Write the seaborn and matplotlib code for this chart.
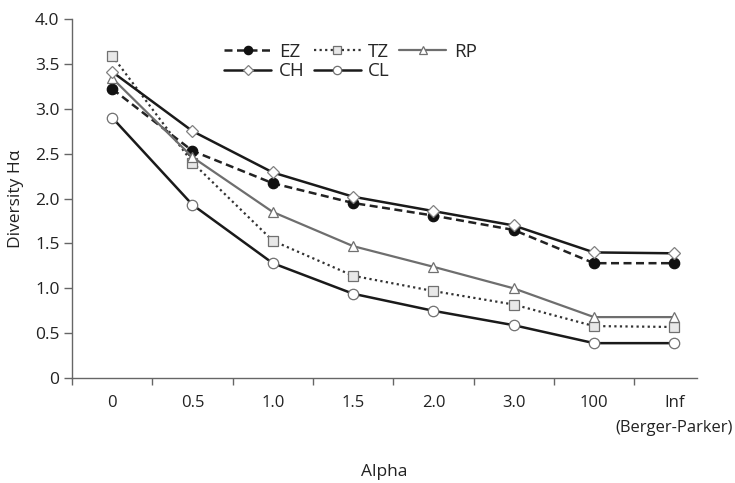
import matplotlib
matplotlib.use("Agg")
import matplotlib.pyplot as plt
import seaborn as sns
import numpy as np
import pandas as pd

categories = ["0", "0.5", "1.0", "1.5", "2.0", "3.0", "100", "Inf"]
EZ = [3.22, 2.53, 2.17, 1.95, 1.81, 1.65, 1.28, 1.28]
TZ = [3.59, 2.40, 1.53, 1.14, 0.97, 0.82, 0.58, 0.57]
RP = [3.34, 2.46, 1.85, 1.47, 1.24, 1.00, 0.68, 0.68]
CH = [3.41, 2.75, 2.29, 2.02, 1.86, 1.70, 1.40, 1.39]
CL = [2.90, 1.93, 1.28, 0.94, 0.75, 0.59, 0.39, 0.39]
yticks = [0, 0.5, 1.0, 1.5, 2.0, 2.5, 3.0, 3.5, 4.0]
ytick_labels = ["0", "0.5", "1.0", "1.5", "2.0", "2.5", "3.0", "3.5", "4.0"]

sns.set_theme(style="white")
plt.rcParams['font.family'] = ['Open Sans', 'DejaVu Sans']

fig = plt.figure(figsize=(7.35, 4.83), dpi=100)
ax = fig.add_axes([0.098, 0.217, 0.85, 0.744])

pos = np.arange(len(categories))
styles = {
    "EZ": dict(data=EZ, color="#222222", ls=(0, (3.2, 1.8)), marker="o", mfc="#111111", mec="#111111", lw=1.8, ms=7.5),
    "TZ": dict(data=TZ, color="#333333", ls=(0, (1, 1.5)), marker="s", mfc="#e8e8e8", mec="#707070", lw=1.6, ms=7),
    "RP": dict(data=RP, color="#6e6e6e", ls="-", marker="^", mfc="white", mec="#707070", lw=1.6, ms=7.5),
    "CH": dict(data=CH, color="#1a1a1a", ls="-", marker="D", mfc="white", mec="#808080", lw=1.8, ms=6),
    "CL": dict(data=CL, color="#1a1a1a", ls="-", marker="o", mfc="white", mec="#707070", lw=1.8, ms=7.5),
}
for name, s in styles.items():
    sns.lineplot(x=pos, y=s["data"], ax=ax, color=s["color"], linestyle=s["ls"],
                 linewidth=s["lw"], marker=s["marker"], markersize=s["ms"],
                 markerfacecolor=s["mfc"], markeredgecolor=s["mec"],
                 markeredgewidth=0.9, label=name)
hl, ll = ax.get_legend_handles_labels()
hmap = dict(zip(ll, hl))
order = ["EZ", "CH", "TZ", "CL", "RP"]
ax.legend([hmap[k] for k in order], order, ncol=3, frameon=False,
          loc="upper left", bbox_to_anchor=(0.232, 0.955), fontsize=13.5,
          handlelength=2.5, columnspacing=0.5, handletextpad=0.4,
          labelspacing=0.1, borderaxespad=0, markerscale=0.8)

ax.set_xlim(-0.5, 7.28)
ax.set_ylim(0, 4.0)
ax.set_yticks(yticks)
ax.set_yticklabels(ytick_labels, fontsize=12.5, color="#222222")
ax.set_xticks(pos)
ax.set_xticklabels(categories, fontsize=12, color="#222222")
ax.set_xticks(np.arange(-0.5, 7, 1.0), minor=True)
ax.tick_params(axis="x", which="major", length=0, pad=12)
ax.tick_params(axis="x", which="minor", length=5, width=1, color="#666666", direction="out", bottom=True)
ax.tick_params(axis="y", which="major", length=6, width=1, color="#666666", direction="out", left=True, pad=3)
for sp in ["top", "right"]:
    ax.spines[sp].set_visible(False)
for sp in ["left", "bottom"]:
    ax.spines[sp].set_color("#666666")
    ax.spines[sp].set_linewidth(1.0)

ax.text(7, -0.55, "(Berger-Parker)", ha="center", va="center", fontsize=12, color="#222222")
ax.set_xlabel("Alpha", fontsize=12.5, color="#222222", labelpad=38)
ax.set_ylabel("Diversity H\u03b1", fontsize=12.5, color="#222222", labelpad=8)

fig.savefig("out.png", dpi=100)
